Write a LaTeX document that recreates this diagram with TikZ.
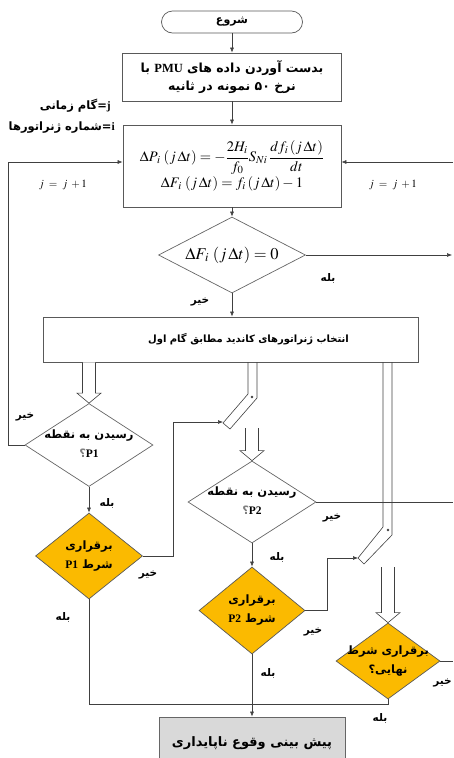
\documentclass[tikz,border=0pt]{standalone}
\usepackage{amsmath}
\usepackage{mathptmx}
\usepackage{fontspec}
\setmainfont{Liberation Serif}
\newfontfamily\fa[Script=Arabic]{DejaVu Sans}
\newfontfamily\lat{Liberation Serif}
\TeXXeTstate=1
\usetikzlibrary{shapes.geometric,arrows.meta,calc}
\definecolor{gold}{HTML}{FBBA00}
\definecolor{lineg}{HTML}{404040}
\definecolor{boxg}{HTML}{595959}
\newcommand\fx[1]{\beginR #1\endR}
\newcommand\zb[1]{\makebox[0pt]{#1}}
\newcommand\twol[2]{\zb{\begin{tabular}{@{}c@{}}#1\\[5pt]#2\end{tabular}}}
\newcommand\blkarr[2]{\draw[blk] let \p1=(#1), \p2=(#2) in
  (\x2-6.5pt,\y1) -- (\x2-6.5pt,\y2+10pt) -- (\x2-12pt,\y2+10pt) -- (\x2,\y2) --
  (\x2+12pt,\y2+10pt) -- (\x2+6.5pt,\y2+10pt) -- (\x2+6.5pt,\y1);}
\tikzset{
  base/.style={draw=boxg, line width=0.7pt, fill=white},
  boxn/.style={base, rectangle, inner sep=2pt, align=center,
    font=\fa\bfseries\fontsize{13}{18}\selectfont},
  dia/.style={base, diamond, inner sep=0pt, draw=gray!80!black,
    font=\fa\bfseries\fontsize{11.5}{14}\selectfont},
  cond/.style={dia, fill=gold, draw=gray!70!black},
  con/.style={draw=lineg, line width=0.6pt},
  arr/.style={con, -{Latex[length=5pt,width=4pt]}},
  blk/.style={draw=lineg, line width=0.6pt, fill=white},
  lbl/.style={font=\fa\bfseries\fontsize{10.5}{12}\selectfont, inner sep=0pt},
  sidel/.style={font=\fa\bfseries\fontsize{11.5}{13}\selectfont, inner sep=0pt},
  jl/.style={font=\fontsize{11}{12}\selectfont, inner sep=0pt},
}
\begin{document}
\begin{tikzpicture}[x=1pt,y=-1pt]
\useasboundingbox (0,0) rectangle (453,758);
\clip (0,0) rectangle (453,758);
\coordinate (redge) at (453,0);
\coordinate (rin) at (453,162);
\coordinate (rout) at (452,255);
\coordinate (mrg) at (0,704);
\coordinate (sw1tip) at (223,422);
\coordinate (sw2tip) at (358,558);
\coordinate (s2top) at (252,428);
\coordinate (s3top) at (388,567);

% nodes
\node[boxn, rounded corners=11pt, minimum width=141pt, minimum height=22pt, font=\fa\bfseries\fontsize{11}{13}\selectfont] (start) at (232,22) {\fx{شروع}};
\node[boxn, minimum width=219pt, minimum height=48pt, font=\fa\bfseries\fontsize{12.5}{18}\selectfont] (read) at (232,77)
  {\fx{بدست آوردن داده های \beginL{\lat PMU}\endL{} با}\\\fx{نرخ \beginL ۵۰\endL{} نمونه در ثانیه}};
\node[boxn, minimum width=218pt, minimum height=82pt, font=\fontsize{14.5}{17}\selectfont] (eq) at (232,166)
  {$\displaystyle \Delta P_{\,i}\;(j\,\Delta t)=-\frac{2H_i}{f_0}S_{Ni}\,\frac{df_i\,(j\,\Delta t)}{dt}$\\[1pt]
   $\Delta F_{\,i}\;(j\,\Delta t)=f_i\,(j\,\Delta t)-1$};
\node[dia, minimum width=147pt, minimum height=76pt, font=\fontsize{16.5}{18}\selectfont] (d1) at (232,255)
  {\zb{$\Delta F_{\,i}\;(j\,\Delta t)=0$}};
\node[boxn, minimum width=375pt, minimum height=45pt, font=\fa\bfseries\fontsize{10}{12}\selectfont] (sel) at (230.5,339.5)
  {\hspace*{36pt}\fx{انتخاب ژنراتورهای کاندید مطابق گام اول}};
\node[dia, minimum width=128pt, minimum height=83pt] (d2) at (89,445)
  {\twol{\fx{رسیدن به نقطه}}{{\color{gray}\fx{؟}}{\lat\bfseries P1}}};
\node[cond, minimum width=107pt, minimum height=86pt] (d3) at (89,556)
  {\twol{\fx{برقراری}}{\fx{شرط \beginL{\lat P1}\endL}}};
\node[dia, minimum width=128pt, minimum height=82pt] (d4) at (252,502)
  {\twol{\fx{رسیدن به نقطه}}{{\color{gray}\fx{؟}}{\lat\bfseries P2}}};
\node[cond, minimum width=106pt, minimum height=87pt] (d5) at (252,610.5)
  {\twol{\fx{برقراری}}{\fx{شرط \beginL{\lat P2}\endL}}};
\node[cond, minimum width=104pt, minimum height=76pt] (d6) at (388,661)
  {\twol{\fx{برقراری شرط}}{\fx{نهایی؟}}};
\node[boxn, fill=gray!30, draw=gray!80!black, minimum width=186pt, minimum height=53pt] (pred) at (252,743.5)
  {\fx{پیش بینی وقوع ناپایداری}};

% side labels
\node[sidel, anchor=east] (gam) at (111,106) {\fx{گام زمانی}={\lat j}};
\node[sidel, anchor=east] (shm) at (115,128) {\fx{شماره ژنراتورها}={\lat i}};
\node[jl] (jl1) at (63,185) {$j\;=\;j\;+1$};
\node[jl] (jl2) at (393,185) {$j\;=\;j\;+1$};

% connectors
\draw[arr] (start) -- (read);
\draw[arr] (read) -- (eq);
\draw[arr] (eq) -- (d1);
\draw[arr] (d1.east) -- (rout);
\draw[arr] (d1.south) -- (d1.south |- sel.north);
\draw[arr] (d2.west) -- ++(-16,0) |- ([yshift=4pt]eq.west);
\draw[arr] (rin) -- (rin -| eq.east);
\draw[arr] (d2) -- (d3);
\draw[arr] (d4) -- (d5);
\draw[arr] (d5) -- (pred);
\draw[con] (d3.south) -- (d3.south |- mrg) -- (d6.south |- mrg) -- (d6.south);
\draw[con] (d4.east) -- (d4.east -| redge);
\draw[con] (d6.east) -- (d6.east -| redge);
\draw[arr] (d3.east) -- ++(30,0) |- (sw1tip);
\draw[arr] (d5.east) -- ++(22,0) |- (sw2tip);

% switches
\draw[blk, fill=none] (248,362) -- (248,394) -- (223,423) -- (230,429) -- (257,398) -- (257,362);
\fill[lineg] (252,397) circle (1.3pt);
\draw[blk, fill=none] (383,362) -- (383,527) -- (358,558) -- (364,564) -- (392,535) -- (392,362);
\fill[lineg] (388,530) circle (1.3pt);

% block arrows
\blkarr{sel.south -| d2.north}{d2.north}
\blkarr{s2top}{d4.north}
\blkarr{s3top}{d6.north}

% yes / no labels
\node[lbl] (yes1) at (328,278) {\fx{بله}};
\node[lbl] (no1) at (200,302) {\fx{خیر}};
\node[lbl] (no2) at (25,417) {\fx{خیر}};
\node[lbl] (yes2) at (107,503) {\fx{بله}};
\node[lbl] (no3) at (148,575) {\fx{خیر}};
\node[lbl] (yes3) at (63,617) {\fx{بله}};
\node[lbl] (no4) at (332,518) {\fx{خیر}};
\node[lbl] (yes4) at (277,557) {\fx{بله}};
\node[lbl] (no5) at (313,632) {\fx{خیر}};
\node[lbl] (yes5) at (268,673) {\fx{بله}};
\node[lbl] (yes6) at (380,718) {\fx{بله}};
\node[lbl, anchor=east] (no6) at (452,683) {\fx{خیر}};
\end{tikzpicture}
\end{document}
